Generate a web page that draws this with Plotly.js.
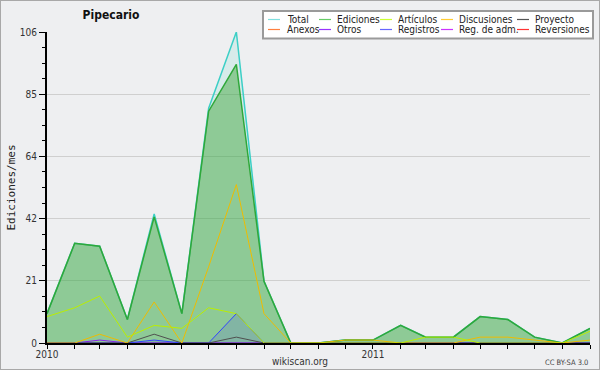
<!DOCTYPE html>
<html>
<head>
<meta charset="utf-8">
<script src="https://cdn.plot.ly/plotly-3.0.1.min.js"></script>
<style>
  html, body { margin: 0; padding: 0; background: #eeeff1; }
  #wrap { position: relative; width: 600px; height: 370px; }
  #chart { width: 600px; height: 370px; }
  #frame { position: absolute; left: 0; top: 0; width: 600px; height: 370px; box-sizing: border-box; border: 1px solid #a8a8a8; pointer-events: none; }
</style>
</head>
<body>
<div id="wrap"><div id="chart"></div><div id="frame"></div></div>
<script>
// ---- data (monthly edits) ----
const months = ['2010-01-01','2010-02-01','2010-03-01','2010-04-01','2010-05-01','2010-06-01','2010-07-01',
                '2010-08-01','2010-09-01','2010-10-01','2010-11-01','2010-12-01','2011-01-01','2011-02-01',
                '2011-03-01','2011-04-01','2011-05-01','2011-06-01','2011-07-01','2011-08-01','2011-09-01'];
const total       = [10, 34, 33, 8, 44, 10, 80, 106, 21, 0, 0, 1, 1, 6, 2, 2, 9, 8, 2, 0, 5];
const ediciones   = [10, 34, 33, 8, 43, 10, 79, 95, 21, 0, 0, 1, 1, 6, 2, 2, 9, 8, 2, 0, 5];
const articulos   = [9, 12, 16, 2, 6, 5, 12, 10, 0, 0, 0, 0, 0, 0, 2, 2, 0, 0, 0, 0, 4];
const discusiones = [0, 0, 3, 0, 14, 0, 26, 54, 10, 0, 0, 1, 1, 0, 0, 0, 2, 2, 1, 0, 1];
const proyecto    = [0, 0, 0, 0, 3, 0, 0, 2, 0, 0, 0, 0, 0, 0, 0, 0, 0, 0, 0, 0, 0];
const anexos      = [0, 0, 0, 0, 0, 0, 0, 0, 0, 0, 0, 0, 0, 0, 0, 0, 0, 0, 0, 0, 0];
const otros       = [0, 0, 1, 0, 0, 0, 0, 0, 0, 0, 0, 0, 0, 0, 0, 0, 0, 0, 0, 0, 0];
const registros   = [0, 0, 0, 0, 1, 0, 0, 10, 0, 0, 0, 0, 0, 0, 0, 0, 0, 0, 0, 0, 0];
const regAdm      = [0, 0, 0, 0, 0, 0, 0, 0, 0, 0, 0, 0, 0, 0, 0, 0, 0, 0, 0, 0, 0];
const reversiones = [0, 0, 0, 0, 0, 0, 0, 0, 0, 0, 0, 0, 0, 0, 0, 0, 0, 0, 0, 0, 0];

const yTickVals   = [0, 21.2, 42.4, 63.6, 84.8, 106];
const yTickLabels = ['0', '21', '42', '64', '85', '106'];

const legendRows = [
  ['Total', 'Ediciones', 'Artículos', 'Discusiones', 'Proyecto'],
  ['Anexos', 'Otros', 'Registros', 'Reg. de adm.', 'Reversiones']
];
const legendColors = [
  ['#80e0e0', '#66cc66', '#ccff33', '#ffcc33', '#555555'],
  ['#ff8040', '#9933ff', '#6666ff', '#cc33ff', '#ff3333']
];

// ---- layout helpers ----
const W = 600, H = 370, L = 47, R = 10, T = 32, B = 27;
const PW = W - L - R, PH = H - T - B;
const fx = px => (px - L) / PW;
const fy = py => (H - B - py) / PH;
const FONT = 'DejaVu Sans Condensed, DejaVu Sans, sans-serif';

function line(y, color, width, extra) {
  return Object.assign({ x: months, y: y, type: 'scatter', mode: 'lines',
    line: { color: color, width: width }, hoverinfo: 'skip', showlegend: false }, extra || {});
}

const traces = [
  line(anexos, '#ff8040', 1),
  line(reversiones, '#ff3333', 1),
  line(regAdm, '#cc33ff', 1),
  line(total, '#3ccfc6', 1.5, { fill: 'tozeroy', fillcolor: 'rgba(64,208,190,0.13)' }),
  line(ediciones, '#2fa83a', 1.5, { fill: 'tozeroy', fillcolor: 'rgba(60,165,55,0.47)' }),
  line(otros, '#8a22ee', 1),
  line(registros, '#3344ff', 1, { fill: 'tozeroy', fillcolor: 'rgba(60,60,255,0.14)' }),
  line(proyecto, '#505050', 1),
  line(discusiones, '#eebc00', 1),
  line(articulos, '#bbee00', 1)
];

// custom legend
const colLine = [268, 319, 380, 441, 517];
const colText = [285, 335, 396, 457, 533];
const rowY = [19.5, 29.5];
const shapes = [{
  type: 'rect', xref: 'paper', yref: 'paper', layer: 'above',
  x0: fx(263), x1: fx(593), y0: fy(11), y1: fy(38.5),
  fillcolor: '#ffffff', line: { color: '#9a9a9a', width: 2 }
}];
const annotations = [];
legendRows.forEach((row, r) => {
  row.forEach((name, c) => {
    shapes.push({ type: 'line', xref: 'paper', yref: 'paper', layer: 'above',
      x0: fx(colLine[c]), x1: fx(colLine[c] + 12), y0: fy(rowY[r]), y1: fy(rowY[r]),
      line: { color: legendColors[r][c], width: 1.2 } });
    annotations.push({ text: name, xref: 'paper', yref: 'paper', x: fx(colText[c]), y: fy(rowY[r]),
      xanchor: 'left', yanchor: 'middle', showarrow: false,
      font: { family: FONT, size: 10, color: '#222' } });
  });
});
annotations.push({ text: 'wikiscan.org', xref: 'paper', yref: 'paper', x: fx(300), y: fy(361),
  xanchor: 'center', yanchor: 'middle', showarrow: false, font: { family: FONT, size: 10, color: '#333' } });
annotations.push({ text: 'CC BY-SA 3.0', xref: 'paper', yref: 'paper', x: fx(590), y: fy(362),
  xanchor: 'right', yanchor: 'middle', showarrow: false, font: { family: FONT, size: 7.5, color: '#444' } });

const layout = {
  width: W, height: H,
  margin: { l: L, r: R, t: T, b: B, pad: 0 },
  paper_bgcolor: '#eeeff1', plot_bgcolor: '#eeeff1',
  showlegend: false,
  title: { text: '<b>Pipecario</b>', x: 111 / W, y: 1 - 15 / H, xref: 'container', yref: 'container',
    xanchor: 'center', yanchor: 'middle', font: { family: FONT, size: 12, color: '#111' } },
  xaxis: {
    type: 'date', range: ['2010-01-01', '2011-09-01'], fixedrange: true,
    tick0: '2010-01-01', dtick: 'M12', tickformat: '%Y',
    ticks: 'outside', ticklen: 4, tickcolor: '#000', tickwidth: 1,
    showline: true, linecolor: '#000', linewidth: 2, showgrid: false, zeroline: false,
    ticklabelstandoff: -3,
    tickfont: { family: FONT, size: 10, color: '#333' },
    minor: { dtick: 'M1', tick0: '2010-01-01', ticks: 'outside', ticklen: 4, tickcolor: '#000', showgrid: false }
  },
  yaxis: {
    range: [0, 106], fixedrange: true,
    tickmode: 'array', tickvals: yTickVals, ticktext: yTickLabels,
    ticks: 'outside', ticklen: 6, tickcolor: '#000',
    showline: true, linecolor: '#000', linewidth: 2,
    showgrid: true, gridcolor: '#cfcfcf', gridwidth: 1, zeroline: false,
    tickfont: { family: FONT, size: 10, color: '#333' },
    minor: { tick0: 0, dtick: 5.3, ticks: 'outside', ticklen: 3, tickcolor: '#000', showgrid: false },
    title: { text: 'Ediciones/mes', standoff: 2, font: { family: 'DejaVu Sans Mono, monospace', size: 11, color: '#222' } }
  },
  shapes: shapes,
  annotations: annotations
};

Plotly.newPlot('chart', traces, layout, { staticPlot: true, displayModeBar: false });
</script>
</body>
</html>
